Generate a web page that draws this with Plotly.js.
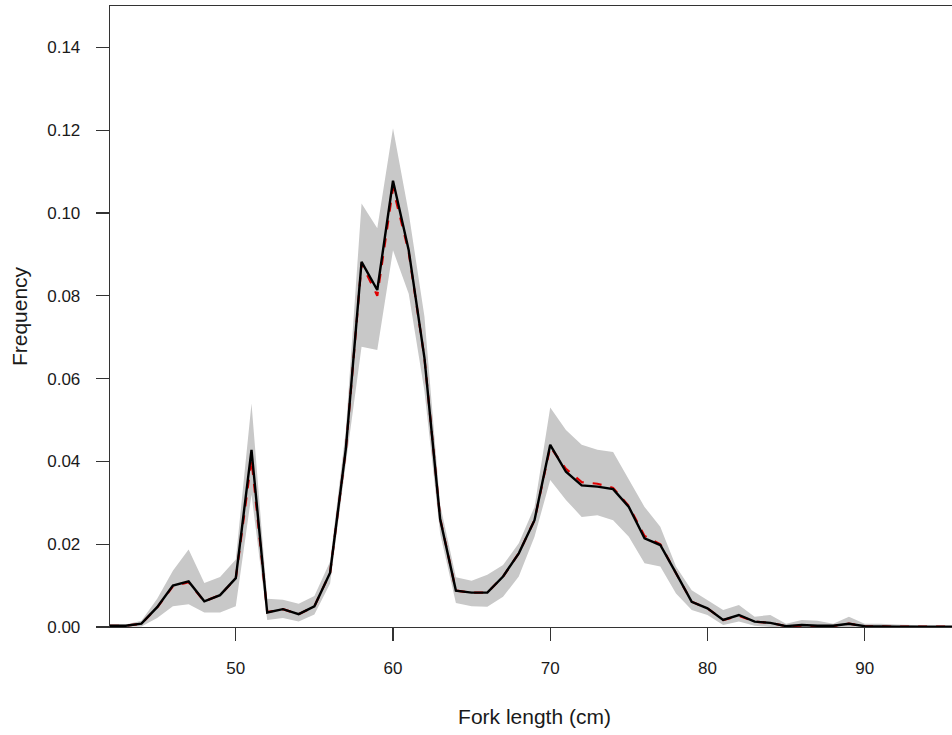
<!DOCTYPE html>
<html>
<head>
<meta charset="utf-8">
<script src="https://cdn.plot.ly/plotly-3.0.1.min.js"></script>
<style>
  html, body { margin: 0; padding: 0; overflow: hidden; background: #ffffff; }
  #chart { width: 962px; height: 735px; }
</style>
</head>
<body>
<div id="chart"></div>
<script>
// Fork length bins (cm)
var forkLength = [42,43,44,45,46,47,48,49,50,51,52,53,54,55,56,57,58,59,60,61,62,63,64,65,66,67,68,69,70,71,72,73,74,75,76,77,78,79,80,81,82,83,84,85,86,87,88,89,90,91,92,93,94,95,96];

// Observed frequency (black line)
var observed = [0.0003,0.0003,0.0008,0.0048,0.0100,0.0110,0.0062,0.0077,0.0118,0.0428,0.0035,0.0043,0.0031,0.0050,0.0131,0.0430,0.0882,0.0814,0.1078,0.0910,0.0650,0.0260,0.0088,0.0083,0.0083,0.0122,0.0178,0.0258,0.0440,0.0375,0.0342,0.0339,0.0333,0.0290,0.0214,0.0198,0.0130,0.0061,0.0045,0.0017,0.0029,0.0013,0.0010,0.0002,0.0005,0.0003,0.0003,0.0008,0.0002,0.0001,0.0001,0.0001,0.0001,0.0001,0.0001];

// Predicted frequency (red dashed line)
var predicted = [0.0003,0.0003,0.0008,0.0047,0.0098,0.0108,0.0062,0.0077,0.0117,0.0405,0.0036,0.0043,0.0031,0.0050,0.0131,0.0428,0.0878,0.0800,0.1060,0.0905,0.0650,0.0262,0.0088,0.0083,0.0083,0.0122,0.0178,0.0258,0.0435,0.0382,0.0350,0.0346,0.0336,0.0292,0.0220,0.0200,0.0130,0.0061,0.0045,0.0017,0.0027,0.0013,0.0010,0.0002,0.0003,0.0001,0.0002,0.0008,0.0002,0.0001,0.0001,0.0001,0.0001,0.0001,0.0001];

// Interval bounds (grey band)
var lowerBound = [0,0,0.0001,0.0022,0.0050,0.0055,0.0035,0.0035,0.0050,0.0320,0.0017,0.0022,0.0013,0.0030,0.0105,0.0395,0.0677,0.0669,0.0910,0.0805,0.0570,0.0225,0.0058,0.0050,0.0049,0.0073,0.0122,0.0218,0.0355,0.0307,0.0266,0.0270,0.0258,0.0218,0.0154,0.0146,0.0081,0.0041,0.0029,0.0005,0.0013,0.0003,0,0,0,0,0,0,0,0,0,0,0,0,0];
var upperBound = [0.0006,0.0006,0.0015,0.0068,0.0136,0.0187,0.0106,0.0121,0.0163,0.0540,0.0068,0.0066,0.0056,0.0075,0.0158,0.0475,0.1023,0.0963,0.1205,0.1000,0.0750,0.0295,0.0120,0.0112,0.0126,0.0150,0.0202,0.0290,0.0530,0.0476,0.0440,0.0428,0.0423,0.0355,0.0290,0.0242,0.0146,0.0089,0.0065,0.0041,0.0053,0.0025,0.0029,0.0008,0.0017,0.0015,0.0008,0.0025,0.0008,0.0008,0.0006,0.0005,0.0002,0.0001,0];

var xTicks = [50,60,70,80,90];
var yTicks = [0,0.02,0.04,0.06,0.08,0.10,0.12,0.14];
var yTickLabels = ["0.00","0.02","0.04","0.06","0.08","0.10","0.12","0.14"];

var font = "Liberation Sans, Arial, sans-serif";

var traces = [
  { x: forkLength, y: lowerBound, type: "scatter", mode: "lines",
    line: { width: 0, color: "#c8c8c8" }, showlegend: false, hoverinfo: "skip" },
  { x: forkLength, y: upperBound, type: "scatter", mode: "lines",
    fill: "tonexty", fillcolor: "#c8c8c8",
    line: { width: 0, color: "#c8c8c8" }, showlegend: false, hoverinfo: "skip" },
  { x: forkLength, y: predicted, type: "scatter", mode: "lines",
    line: { width: 2.2, color: "#e00000", dash: "dash" }, showlegend: false },
  { x: forkLength, y: observed, type: "scatter", mode: "lines",
    line: { width: 2.4, color: "#000000" }, showlegend: false }
];

var axisCommon = {
  showgrid: false, zeroline: false,
  showline: true, mirror: true, linecolor: "#333333", linewidth: 1.3,
  ticks: "outside", ticklen: 13, tickwidth: 1.2, tickcolor: "#333333",
  tickfont: { family: font, size: 17, color: "#1a1a1a" }
};

var layout = {
  width: 962, height: 735,
  margin: { l: 110, r: 3, t: 6, b: 108 },
  paper_bgcolor: "#ffffff", plot_bgcolor: "#ffffff",
  showlegend: false,
  xaxis: Object.assign({}, axisCommon, {
    range: [42, 96], tickmode: "array", tickvals: xTicks,
    ticklabelstandoff: 12,
    automargin: false,
    title: { text: "Fork length (cm)", font: { family: font, size: 21, color: "#1a1a1a" }, standoff: 32 }
  }),
  yaxis: Object.assign({}, axisCommon, {
    range: [0, 0.15], tickmode: "array", tickvals: yTicks, ticktext: yTickLabels,
    ticklabelstandoff: 12,
    automargin: false,
    title: { text: "Frequency", font: { family: font, size: 21, color: "#1a1a1a" }, standoff: 14 }
  })
};

Plotly.newPlot("chart", traces, layout, { staticPlot: true, displayModeBar: false });
</script>
</body>
</html>
